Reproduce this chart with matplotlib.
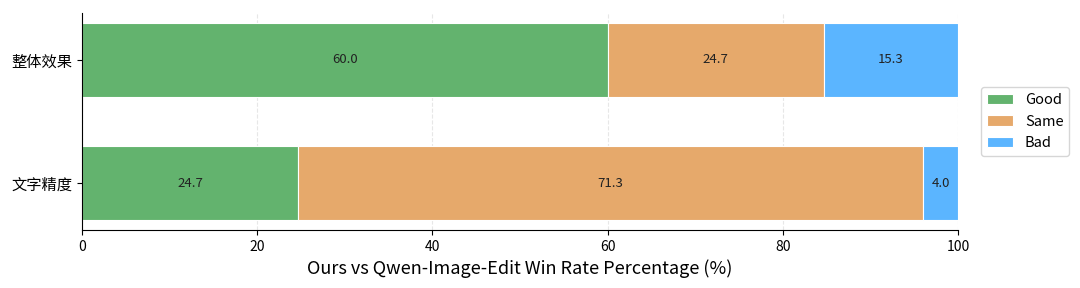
import numpy as np
import matplotlib.pyplot as plt

plt.rcParams['font.family'] = ['Noto Sans CJK SC', 'DejaVu Sans']

categories = ['文字精度', '整体效果']
good = [24.7, 60.0]
same = [71.3, 24.7]
bad = [4.0, 15.3]
series = [('Good', good, '#63b36e'), ('Same', same, '#e6a96b'), ('Bad', bad, '#5bb5ff')]

fig, ax = plt.subplots(figsize=(10.8, 2.88), dpi=100)
fig.subplots_adjust(left=0.076, right=0.887, top=0.955, bottom=0.201)

y = np.arange(len(categories))
left = np.zeros(len(categories))
for name, vals, color in series:
    bars = ax.barh(y, vals, left=left, height=0.6, color=color, label=name,
                   edgecolor='white', linewidth=0.8)
    for b, v in zip(bars, vals):
        ax.text(b.get_x() + b.get_width() / 2, b.get_y() + b.get_height() / 2,
                f'{v:.1f}', ha='center', va='center', fontsize=9.5, color='#222222')
    left += np.array(vals)

ax.set_yticks(y)
ax.set_yticklabels(categories, fontsize=11)
ax.set_xlim(0, 100)
ax.set_xticks([0, 20, 40, 60, 80, 100])
ax.tick_params(axis='x', labelsize=10)
ax.set_xlabel('Ours vs Qwen-Image-Edit Win Rate Percentage (%)', fontsize=13)
ax.grid(axis='x', linestyle='--', alpha=0.3)
ax.set_axisbelow(True)
ax.spines['top'].set_visible(False)
ax.spines['right'].set_visible(False)
ax.legend(loc='center left', bbox_to_anchor=(1.018, 0.5), fontsize=10.5,
          handlelength=1.8)

plt.savefig('out.png')
